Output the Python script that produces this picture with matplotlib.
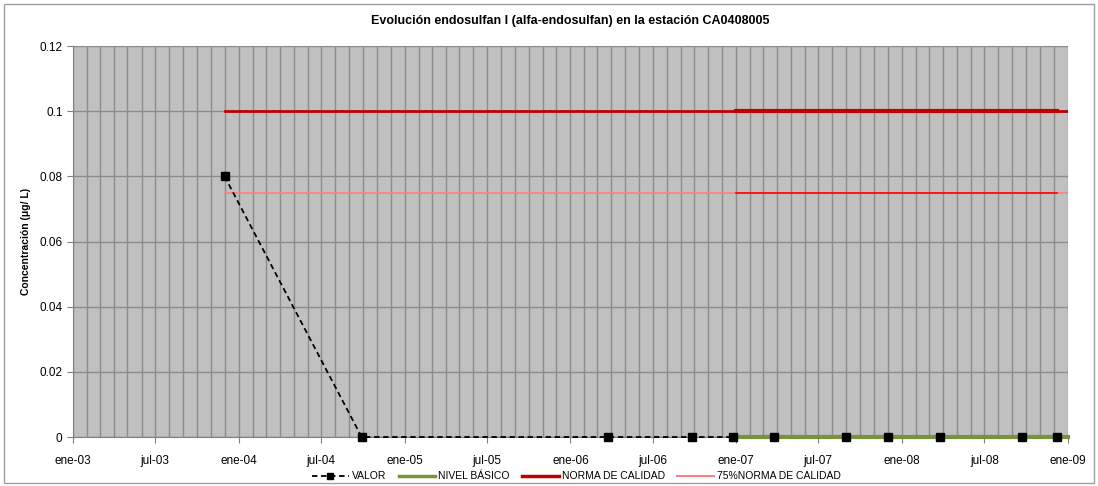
import numpy as np
import pandas as pd
import matplotlib
matplotlib.use("Agg")
import matplotlib.pyplot as plt
import matplotlib.dates as mdates
from matplotlib.lines import Line2D
from matplotlib.patches import Rectangle

plt.rcParams["font.family"] = ["Liberation Sans", "DejaVu Sans"]

# datos
fechas_valor = ["2003-12-01", "2004-09-28", "2006-03-25", "2006-09-25", "2006-12-25",
                "2007-03-25", "2007-09-01", "2007-12-01", "2008-03-25", "2008-09-22",
                "2008-12-08"]
valores = [0.08, 0, 0, 0, 0, 0, 0, 0, 0, 0, 0]

fechas_basico = ["2007-01-01", "2009-01-01"]
nivel_basico = [0, 0]

fechas_norma = ["2003-12-01", "2009-01-01"]
norma = [0.1, 0.1]
norma_75 = [0.075, 0.075]

fechas_norma2 = ["2007-01-01", "2008-12-08"]
norma2 = [0.1, 0.1]
norma2_75 = [0.075, 0.075]

fechas_valor = pd.to_datetime(fechas_valor)
fechas_basico = pd.to_datetime(fechas_basico)
fechas_norma = pd.to_datetime(fechas_norma)
fechas_norma2 = pd.to_datetime(fechas_norma2)

meses = {1: "ene", 7: "jul"}

fig = plt.figure(figsize=(10.98, 4.86), dpi=100)
ax = fig.add_axes([0.0665, 0.1008, 0.906, 0.8045])
ax.set_facecolor("#C0C0C0")

c_norma = "#C00000"
c_75 = "#FF8080"
c_75b = "#FF0000"
c_basico = "#77933C"

ax.plot(fechas_norma, norma, color=c_norma, lw=2, zorder=3)
ax.plot(fechas_norma2, norma2, color=c_norma, lw=3, zorder=3)
ax.plot(fechas_norma, norma_75, color=c_75, lw=1.2, zorder=3)
ax.plot(fechas_norma2, norma2_75, color=c_75b, lw=1.2, zorder=3)
# linea de valores, luego nivel basico encima, luego marcadores
ax.plot(fechas_valor, valores, color="black", ls="--", lw=1.3, zorder=4,
        clip_on=False, dashes=(3, 2))
ax.plot(fechas_basico, nivel_basico, color=c_basico, lw=3, zorder=5, clip_on=False)
ax.plot(fechas_valor, valores, ls="none", marker="s", color="black",
        markersize=5.5, zorder=6, clip_on=False)

ax.set_xlim(pd.Timestamp("2003-01-01"), pd.Timestamp("2009-01-01"))
ax.set_ylim(0, 0.12)
ax.xaxis.set_major_locator(mdates.MonthLocator(bymonth=[1, 7]))
ax.xaxis.set_minor_locator(mdates.MonthLocator())
ax.xaxis.set_major_formatter(plt.FuncFormatter(
    lambda v, p: "%s-%s" % (meses[mdates.num2date(v).month], mdates.num2date(v).strftime("%y"))))
ax.set_yticks(np.arange(0, 0.121, 0.02))
ax.yaxis.set_major_formatter(plt.FuncFormatter(lambda v, p: "%g" % round(v, 2)))

ax.grid(True, which="both", axis="x", color="#8C8C8C", lw=1)
ax.grid(True, which="major", axis="y", color="#8C8C8C", lw=1)
ax.set_axisbelow(True)
ax.tick_params(axis="x", which="minor", length=0)
ax.tick_params(axis="both", which="major", labelsize=8.5, direction="out", length=4, color="#808080")
ax.tick_params(axis="x", which="major", pad=9)
for s in ["top", "right"]:
    ax.spines[s].set_visible(False)
ax.spines["left"].set_color("#808080")
ax.spines["bottom"].set_color("#808080")

ax.set_ylabel("Concentración (μg/ L)", fontsize=7.5, fontweight="bold", labelpad=6)
ax.set_title("Evolución endosulfan I (alfa-endosulfan) en la estación CA0408005",
             fontsize=9, fontweight="bold", pad=16)

handles = [
    Line2D([], [], color="black", ls="--", marker="s", markersize=5, lw=1.3, dashes=(3, 2)),
    Line2D([], [], color=c_basico, lw=2.5),
    Line2D([], [], color=c_norma, lw=2.5),
    Line2D([], [], color=c_75, lw=1.5),
]
labels = ["VALOR", "NIVEL BÁSICO", "NORMA DE CALIDAD", "75%NORMA DE CALIDAD"]
fig.legend(handles, labels, loc="lower center", ncol=4, frameon=False, fontsize=7.5,
           bbox_to_anchor=(0.525, -0.01), handlelength=3.5, columnspacing=1.2,
           handletextpad=0.3)

fig.patches.append(Rectangle((0.004, 0.006), 0.992, 0.986, transform=fig.transFigure,
                             fill=False, edgecolor="#A0A0A0", lw=1))

fig.savefig("out.png", dpi=100)
